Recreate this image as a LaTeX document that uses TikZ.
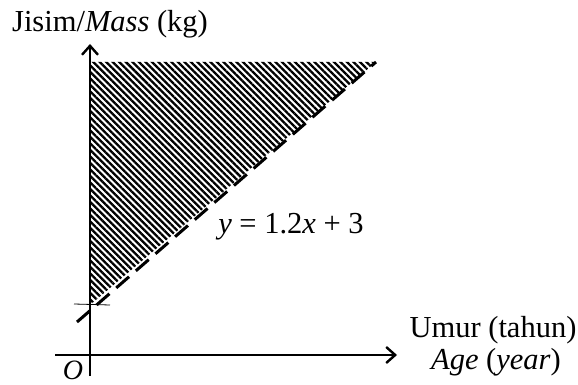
\documentclass[tikz,border=0pt]{standalone}
\usepackage{fontspec}
\setmainfont{Liberation Serif}
\usetikzlibrary{arrows.meta,patterns.meta}
\begin{document}
\begin{tikzpicture}[x=1pt,y=-1pt,
  axis/.style={line width=2.6pt,-{Straight Barb[length=9pt,width=16pt,line width=2.4pt]}},
  lbl/.style={font=\fontsize{30.5}{32}\selectfont,inner sep=0pt},
  bound/.style={line width=3pt,dash pattern=on 17pt off 9pt}]
\useasboundingbox (0,0) rectangle (578,385);
\coordinate (O) at (90,355);
\coordinate (ytop) at (90,44);
\coordinate (ybot) at (90,376);
\coordinate (xleft) at (55,355);
\coordinate (xright) at (397,355);
\coordinate (A) at (90,62);
\coordinate (B) at (376,62);
\coordinate (C) at (90,305);
\coordinate (D) at (77,322);
% shaded region
\fill[pattern={Lines[angle=-45,distance=4.6pt,line width=2.3pt]}] (A) -- (B) -- (C) -- cycle;
% boundary line
\draw[bound] (D) -- (B);
% tick at intercept
\draw[line width=0.8pt] (74,304) -- (110,305);
% axes
\draw[axis] (ybot) -- (ytop);
\draw[axis] (xleft) -- (xright);
% labels
\node[lbl] (ylab) at (110,24) {Jisim/\textit{Mass} (kg)};
\node[lbl] (xlab1) at (493,330) {Umur (tahun)};
\node[lbl] (xlab2) at (496,362) {\textit{Age} (\textit{year})};
\node[lbl] (eq) at (291,227) {\textit{y} = 1.2\textit{x} + 3};
\node[lbl,anchor=south,font=\fontsize{28}{30}\selectfont] (olab) at (73,380) {\textit{O}};
\end{tikzpicture}
\end{document}
